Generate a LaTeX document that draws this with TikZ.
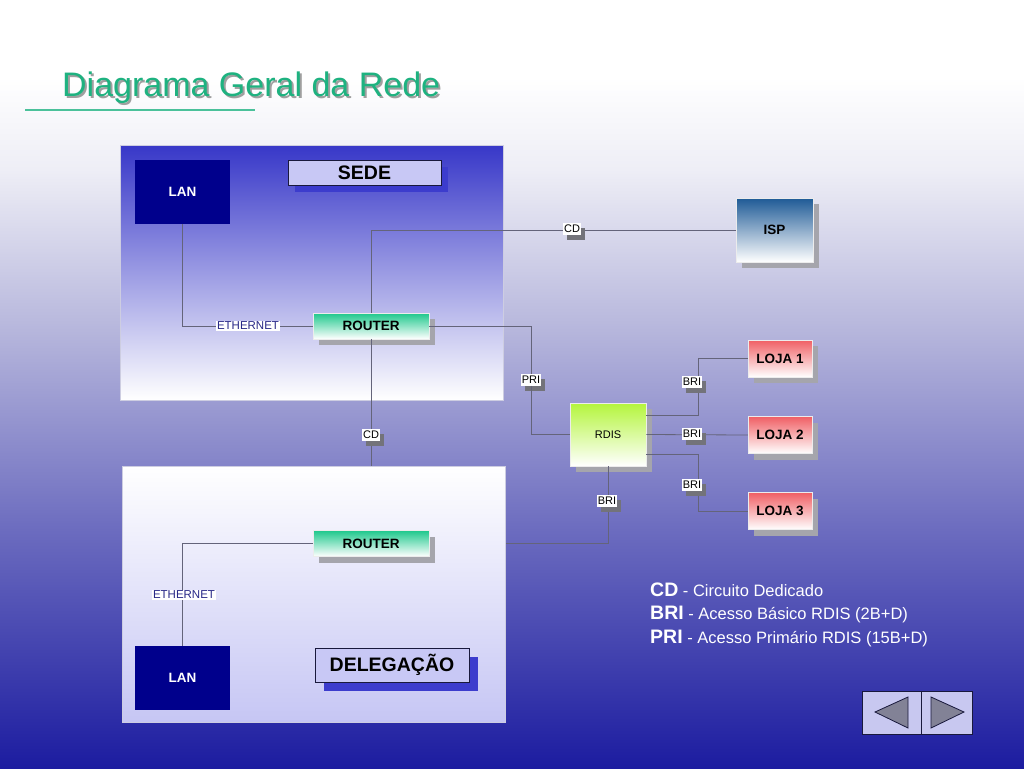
\documentclass[tikz,border=0pt]{standalone}
\usepackage{fontspec}
\setmainfont{Liberation Sans}
\usetikzlibrary{shadows}

\definecolor{bgbottom}{RGB}{28,28,160}
\definecolor{bglow}{RGB}{105,105,190}
\definecolor{bgmid}{RGB}{182,182,220}
\definecolor{bghigh}{RGB}{238,238,246}
\definecolor{sedetop}{RGB}{55,55,200}
\definecolor{delegbottom}{RGB}{198,198,244}
\definecolor{areaedge}{RGB}{205,205,225}
\definecolor{lanblue}{RGB}{0,0,140}
\definecolor{lblfill}{RGB}{200,200,245}
\definecolor{lblshadow}{RGB}{60,60,205}
\definecolor{routergreen}{RGB}{30,200,140}
\definecolor{ispblue}{RGB}{30,90,150}
\definecolor{rdisgreen}{RGB}{180,245,60}
\definecolor{lojared}{RGB}{240,95,100}
\definecolor{boxshadow}{RGB}{165,165,172}
\definecolor{tagshadow}{RGB}{115,115,122}
\definecolor{linegrey}{RGB}{100,100,122}
\definecolor{ethblue}{RGB}{40,40,135}
\definecolor{titlegreen}{RGB}{30,178,128}
\definecolor{navfill}{RGB}{200,200,240}
\definecolor{navarrow}{RGB}{130,130,150}
\definecolor{navedge}{RGB}{25,25,60}

% the path covers 25bp..75bp of the shading
\pgfdeclareverticalshading{pagebg}{100bp}{color(0bp)=(bgbottom); color(25bp)=(bgbottom); color(40bp)=(bglow); color(53.5bp)=(bgmid); color(64bp)=(bghigh); color(70bp)=(white); color(100bp)=(white)}

\newcommand\setpx[1]{\fontsize{#1}{#1}\selectfont}

\begin{document}
\begin{tikzpicture}[x=1pt,y=-1pt,
  conn/.style={draw=linegrey, line width=0.8pt},
  area/.style={draw=areaedge, line width=1pt, inner sep=0pt, minimum width=383pt},
  lanbox/.style={fill=lanblue, text=white, font=\bfseries\setpx{13.5}, minimum width=95pt, minimum height=64pt},
  devbox/.style={draw=white!85!gray, line width=0.5pt, inner sep=0pt, font=\bfseries\setpx{13.5},
    drop shadow={shadow xshift=6pt, shadow yshift=-6pt, fill=boxshadow, opacity=1}},
  router/.style={devbox, top color=routergreen, bottom color=white, minimum width=116pt, minimum height=26pt},
  loja/.style={devbox, top color=lojared, bottom color=white, minimum width=64pt, minimum height=37pt},
  sitelbl/.style={draw=navedge, line width=0.7pt, fill=lblfill, inner sep=0pt, font=\bfseries\setpx{19.5},
    drop shadow={shadow xshift=#1, shadow yshift=-#1, fill=lblshadow, opacity=1}},
  tag/.style={fill=white, inner xsep=1.3pt, inner ysep=2pt, font=\setpx{11},
    drop shadow={shadow xshift=4pt, shadow yshift=-5pt, fill=tagshadow, opacity=1}},
  ethtag/.style={fill=white, inner sep=1.3pt, text=ethblue, font=\setpx{11.5}},
  legend/.style={anchor=west, inner sep=0pt, text=white, font=\setpx{16.5}},
  titletext/.style={anchor=west, inner sep=0pt, font=\setpx{34}}]

\useasboundingbox (0,0) rectangle (1024,768);
\shade[shading=pagebg] (0,0) rectangle (1024,768);

% title
\node[titletext, text=gray!75] at (64,90) {Diagrama Geral da Rede};
\node[titletext, text=titlegreen] (title) at (62,88) {Diagrama Geral da Rede};
\draw[titlegreen!80, line width=1.2pt] (25,110) -- (255,110);

% sites
\node[area, top color=sedetop, bottom color=white, minimum height=255pt] (sedeArea) at (311.5,272.5) {};
\node[area, top color=white, bottom color=delegbottom, minimum height=256pt] (delegArea) at (313.5,594) {};

\node[lanbox] (lanA) at (182.5,192) {LAN};
\node[sitelbl=7pt, minimum width=153pt, minimum height=25pt] (sedeLbl) at (364.5,172.5) {SEDE};
\node[router] (routerA) at (371,326) {ROUTER};
\node[ethtag] (ethA) at (248,326) {ETHERNET};

\node[router] (routerB) at (371,543.5) {ROUTER};
\node[lanbox] (lanB) at (182.5,678) {LAN};
\node[sitelbl=9pt, minimum width=154pt, minimum height=34pt] (delegLbl) at (392,665) {DELEGAÇÃO};

% outside
\node[devbox, top color=ispblue, bottom color=white, minimum width=77pt, minimum height=64pt] (ispN) at (774.5,230) {ISP};
\node[devbox, top color=rdisgreen, bottom color=white, minimum width=76pt, minimum height=63pt, font=\setpx{11}] (rdis) at (608,434.5) {RDIS};
\node[loja] (loja1) at (780,358.5) {LOJA 1};
\node[loja] (loja2) at (780,435) {LOJA 2};
\node[loja] (loja3) at (780,511) {LOJA 3};

\node[tag] (priA) at (531,380) {PRI};
\coordinate (splitA) at (698,415);
\coordinate (splitC) at (698,454);

% links
\draw[conn] (lanA.south) |- (ethA.west);
\draw[conn] (ethA.east) -- (routerA.west);
\draw[conn] (ispN.west) -| (routerA.north);
\draw[conn] (routerA.south) -- (routerA.south |- delegArea.north);
\draw[conn] (routerA.east) -| (priA.north);
\draw[conn] (priA.south) |- (rdis.west);
\draw[conn] (rdis.east |- splitA) -- (splitA) |- (loja1.west);
\draw[conn] (rdis.east) -- (loja2.west);
\draw[conn] (rdis.east |- splitC) -- (splitC) |- (loja3.west);
\draw[conn] (rdis.south) |- (routerB -| delegArea.east);
\draw[conn] (routerB.west) -| (lanB.north);

\node[tag] (cdIsp) at (572,229) {CD};
\node[tag] (cdDeleg) at (371,435) {CD};
\node[tag] (bri1) at (692,382) {BRI};
\node[tag] (bri2) at (692,434) {BRI};
\node[tag] (bri3) at (692,485) {BRI};
\node[tag] (bri4) at (607,501) {BRI};
\node[ethtag] (ethB) at (184,595) {ETHERNET};

% legend
\node[legend] (legCD) at (650,590) {{\bfseries\setpx{19.5}CD} - Circuito Dedicado};
\node[legend] (legBRI) at (650,614) {{\bfseries\setpx{19.5}BRI} - Acesso Básico RDIS (2B+D)};
\node[legend] (legPRI) at (650,638) {{\bfseries\setpx{19.5}PRI} - Acesso Primário RDIS (15B+D)};

% navigation buttons
\draw[fill=navfill, draw=navedge, line width=1pt] (862,691) rectangle (921,734);
\draw[fill=navfill, draw=navedge, line width=1pt] (921,691) rectangle (972,734);
\filldraw[fill=navarrow, draw=navedge, line width=0.8pt] (875,712) -- (908,697) -- (908,728) -- cycle;
\filldraw[fill=navarrow, draw=navedge, line width=0.8pt] (931,697) -- (964,712) -- (931,728) -- cycle;
\end{tikzpicture}
\end{document}
